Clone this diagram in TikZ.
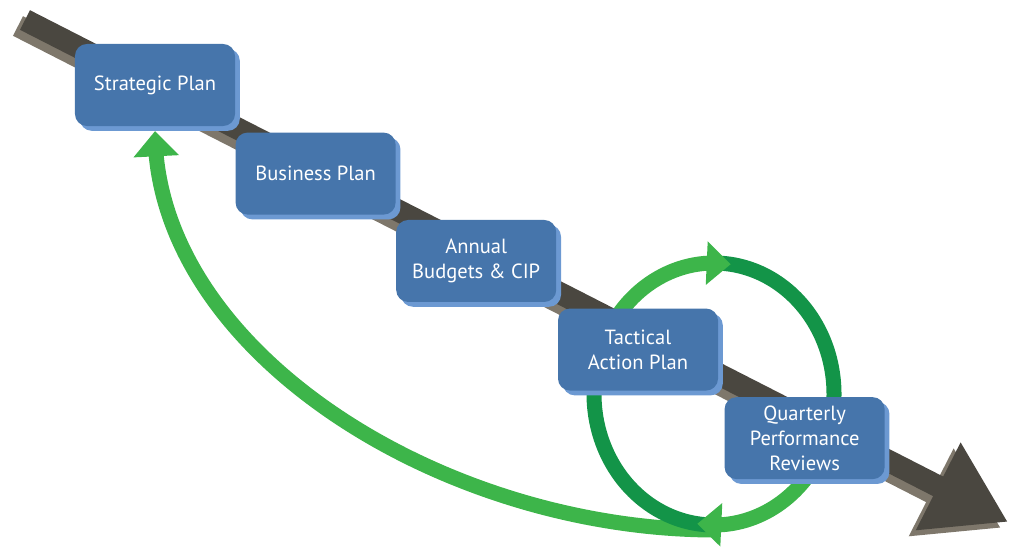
\documentclass[tikz,border=0pt]{standalone}
\usepackage{fontspec}
\setmainfont{PT Sans}
\usepackage{xcolor}
\usepackage{tikz}
\usetikzlibrary{arrows.meta, bending, shadows, positioning}

\definecolor{bandtop}{HTML}{4A4740}
\definecolor{bandside}{HTML}{7E776B}
\definecolor{boxfill}{HTML}{4675AB}
\definecolor{boxedge}{HTML}{6C99D2}
\definecolor{greenlight}{HTML}{3DB54A}
\definecolor{greendark}{HTML}{139448}

\pgfdeclarelayer{background}
\pgfsetlayers{background,main}

\begin{document}
\begin{tikzpicture}[
x=0.025cm, y=-0.025cm,
planbox/.style={rectangle, rounded corners=0.3cm, fill=boxfill, text=white, minimum width=4cm, minimum height=2.05cm, align=center, font=\fontsize{14.6}{17.6}\selectfont, general shadow={fill=boxedge, shadow xshift=0.12cm, shadow yshift=-0.12cm}},
band/.style={line width=0.55cm, -{Triangle[length=1.96cm, width=2.32cm]}},
ringpart/.style={line width=0.375cm},
ringhead/.style={ringpart, -{Triangle[length=0.6cm, width=1.05cm]}},
backarc/.style={line width=0.375cm, greenlight, -{Triangle[length=0.63cm, width=1.1cm]}}
]
\useasboundingbox (0,0) rectangle (1016,546);

% plan boxes
\node[planbox] (strategic) at (155,85) {Strategic Plan};
\node[planbox, below right=0.15cm and 0cm of strategic] (business) {Business Plan};
\node[planbox, below right=0.12cm and 0cm of business] (annual) {Annual\\Budgets \& CIP};
\node[planbox, below right=0.15cm and 0.03cm of annual] (tactical) {Tactical\\Action Plan};
\node[planbox, below right=0.15cm and 0.15cm of tactical] (quarterly) {Quarterly\\Performance\\Reviews};

\begin{pgfonlayer}{background}
% timeline band
\coordinate (tail) at (25,20);
\coordinate (head) at (1008,522);
\draw[band, bandside] ([shift={(-7,6)}]tail) -- ([shift={(-7,6)}]head);
\draw[band, bandtop] (tail) -- (head);

% feedback to the strategic plan
\coordinate (ring) at (714,394);
\coordinate (ringbottom) at (716,530);
\draw[backarc] (ringbottom) .. controls (440,530) and (155,350) .. ([yshift=-0.12cm]strategic.south);

% quarterly review loop
\draw[ringpart, greendark] ([shift={(272:120 and 131)}]ring) arc[start angle=272, end angle=380, x radius=120, y radius=131];
\draw[ringpart, greendark] ([shift={(93:120 and 131)}]ring) arc[start angle=93, end angle=200, x radius=120, y radius=131];
\draw[ringhead, greenlight] ([shift={(20:120 and 131)}]ring) arc[start angle=20, end angle=98, x radius=120, y radius=131];
\draw[ringhead, greenlight] ([shift={(200:120 and 131)}]ring) arc[start angle=200, end angle=278, x radius=120, y radius=131];
\end{pgfonlayer}

\end{tikzpicture}
\end{document}
